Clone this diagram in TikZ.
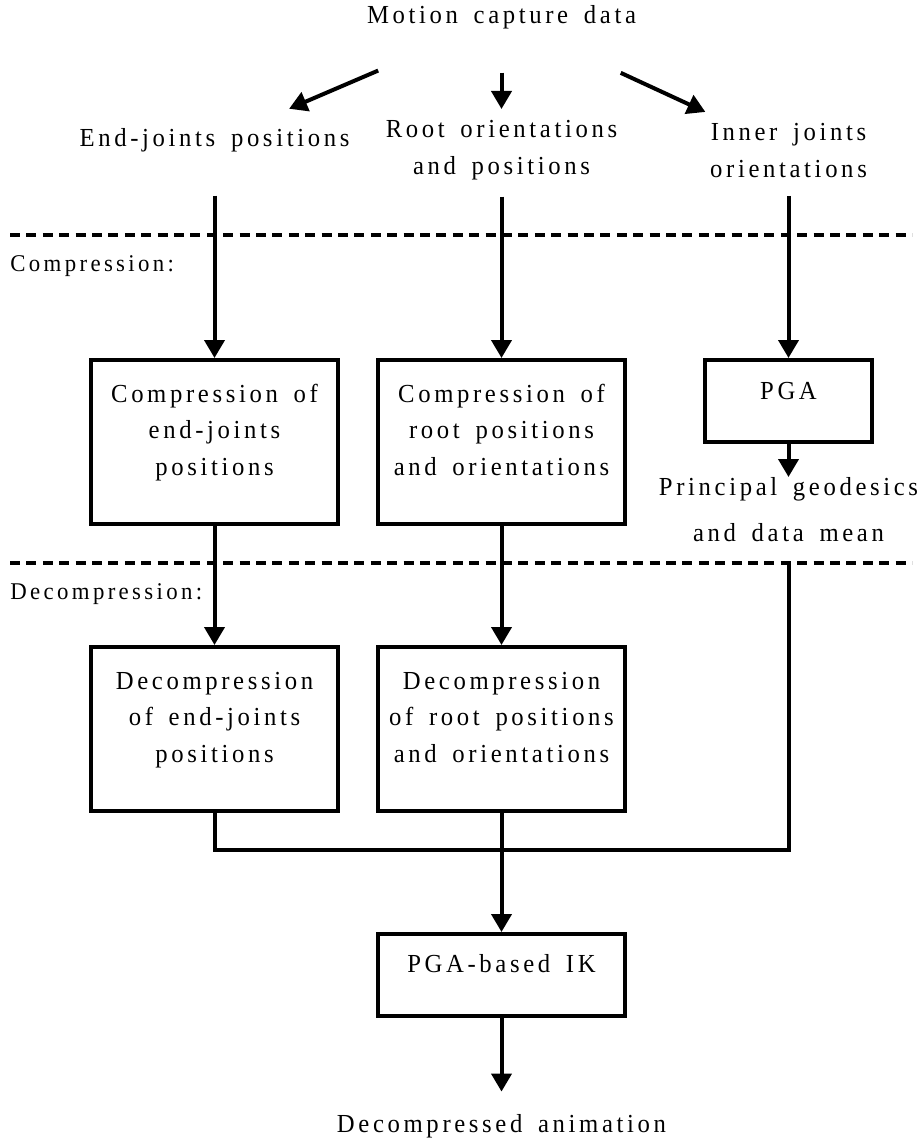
\documentclass[tikz,border=0pt]{standalone}
\usepackage{fontspec}
\setmainfont{Liberation Serif}[FakeStretch=0.95,LetterSpace=14,WordSpace=1.6]
\usetikzlibrary{arrows.meta}

\begin{document}
\begin{tikzpicture}[x=0.5pt, y=-0.5pt, font=\fontsize{13}{18.25}\selectfont]
    % Styles
    \tikzstyle{stage} = [rectangle, draw, line width=2pt, minimum width=123.5pt, inner xsep=2pt, inner ysep=0pt, align=center, text height=57.5pt, text depth=24.5pt]
    \tikzstyle{small stage} = [stage, text height=19.5pt, text depth=21.5pt]
    \tikzstyle{caption} = [inner sep=3pt, align=center]
    \tikzstyle{phase} = [font=\fontsize{12}{14}\selectfont, inner sep=0pt, anchor=base west]
    \tikzstyle{arrow} = [-{Triangle[length=9pt,width=10pt]}, line width=2pt]
    \tikzstyle{link} = [line width=2pt]
    \tikzstyle{divider} = [line width=1.8pt, dash pattern=on 5pt off 3.2pt]

    \useasboundingbox (0,0) rectangle (922,1144);

    % Inputs
    \node[caption, anchor=base] (motion) at (501.5,24) {Motion capture data};
    \node[caption, anchor=base] (endjt) at (214.5,147) {End-joints positions};
    \node[caption, anchor=north] (rootlbl) at (501.5,114) {Root orientations\\and positions};
    \node[caption, anchor=north] (innerlbl) at (788.5,117) {Inner joints\\orientations};

    % Phases
    \draw[divider] (10,235) -- (912,235);
    \draw[divider] (10,563) -- (912,563);
    \node[phase] (comp) at (10,272) {Compression:};
    \node[phase] (decomp) at (10,599) {Decompression:};

    % Boxes
    \node[stage, anchor=north] (cendj) at (214.5,358) {Compression of\\end-joints\\positions};
    \node[stage, anchor=north] (croot) at (501.5,358) {Compression of\\root positions\\and orientations};
    \node[small stage, minimum width=83.5pt, anchor=north] (pga) at (788.5,358) {PGA};
    \node[caption, anchor=north] (pgaout) at (788.5,471) {Principal geodesics\\[4.75pt]and data mean};
    \node[stage, anchor=north] (dendj) at (214.5,645) {Decompression\\of end-joints\\positions};
    \node[stage, anchor=north] (droot) at (501.5,645) {Decompression\\of root positions\\and orientations};
    \node[small stage, anchor=north, text height=19pt, text depth=22pt] (ik) at (501.5,932) {PGA-based IK};
    \node[caption, anchor=base] (result) at (501.5,1132) {Decompressed animation};
    \coordinate (join) at (501.5,850);

    % Arrows
    \draw[arrow, shorten <=44pt, shorten >=17.5pt] (motion) -- (endjt);
    \draw[arrow, shorten <=18.3pt, shorten >=2.5pt] (motion) -- (rootlbl);
    \draw[arrow, shorten <=44pt, shorten >=6pt] (motion) -- (innerlbl);
    \draw[arrow, shorten <=18.3pt] (endjt) -- (cendj);
    \draw[arrow, shorten <=5.3pt] (rootlbl) -- (croot);
    \draw[arrow, shorten <=6pt] (innerlbl) -- (pga);
    \draw[arrow, shorten >=-3pt] (pga) -- (pgaout);
    \draw[arrow] (cendj) -- (dendj);
    \draw[arrow] (croot) -- (droot);
    \draw[link] ([yshift=-8.5pt]pgaout.south) |- (join);
    \draw[link] (dendj.south) |- (join);
    \draw[link] (droot.south) -- (join);
    \draw[arrow] (join) -- (ik);
    \draw[arrow, shorten >=8pt] (ik) -- (result);
\end{tikzpicture}
\end{document}
